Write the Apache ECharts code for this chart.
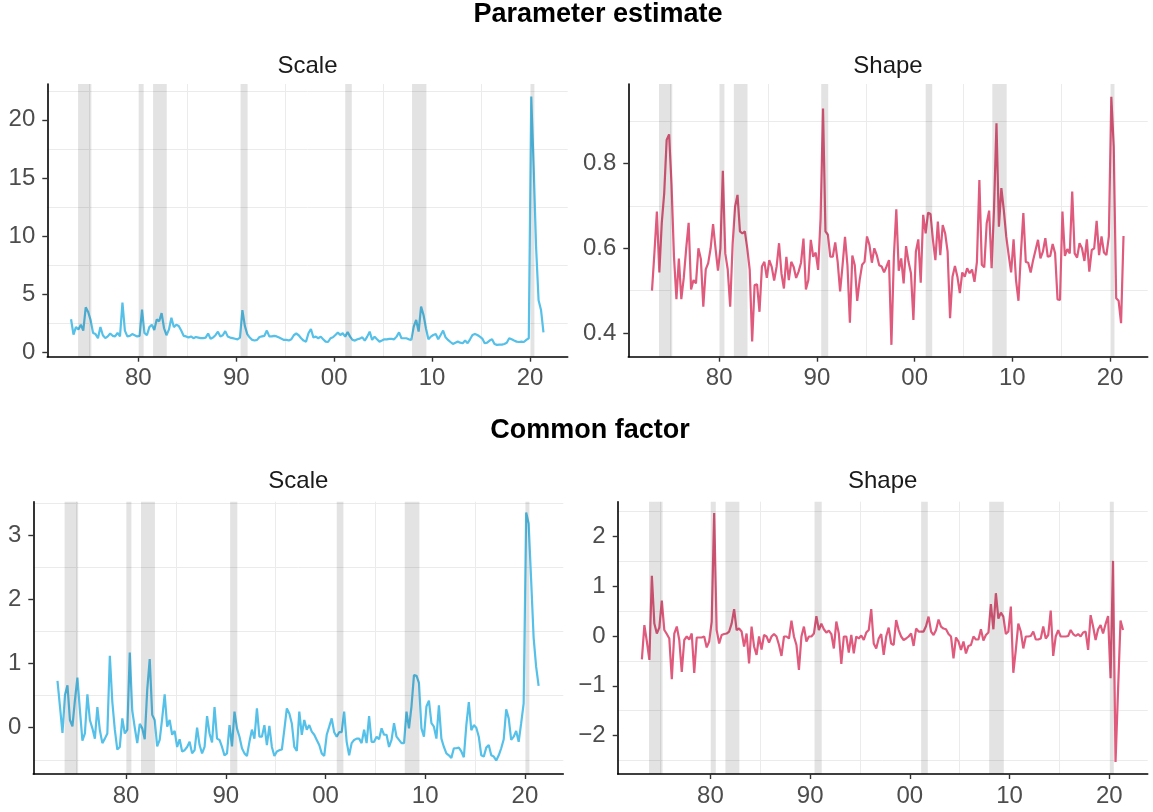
<!DOCTYPE html>
<html><head><meta charset="utf-8">
<script src="https://cdn.jsdelivr.net/npm/echarts@6/dist/echarts.min.js"></script>
<style>html,body{margin:0;padding:0;background:#fff}#c{width:1153px;height:812px}</style>
</head><body><div id="c"></div>
<script>
// quarterly observations, first quarter 1973Q1
const quarterStart = 1973.125;
const quarterStep = 0.25;

const scaleEstimate = [2.87,1.55,2.2,2.0,2.4,1.9,3.9,3.5,2.8,1.7,1.6,1.25,2.2,1.5,1.25,1.4,1.65,1.45,1.4,1.7,
1.4,4.3,1.9,1.4,1.45,1.6,1.5,1.4,1.45,3.7,1.7,1.5,2.2,2.4,1.95,2.85,2.7,3.4,2.1,1.5,
2.0,3.0,2.2,2.4,2.3,1.9,1.45,1.4,1.3,1.4,1.25,1.35,1.3,1.25,1.25,1.3,1.65,1.2,1.3,1.5,
1.8,1.4,1.5,1.85,1.4,1.3,1.25,1.2,1.15,1.3,3.65,2.3,1.6,1.3,1.1,1.05,1.1,1.35,1.4,1.45,
1.9,1.4,1.4,1.45,1.4,1.3,1.2,1.1,1.1,1.05,1.15,1.5,1.65,1.5,1.24,1.04,0.95,1.67,2.04,1.32,
1.38,1.24,1.38,1.15,0.95,0.92,1.24,1.32,1.52,1.72,1.52,1.67,1.38,1.78,1.38,1.1,1.04,1.15,1.21,1.32,
1.04,1.38,1.81,1.1,1.38,1.15,0.95,1.04,1.15,1.15,1.18,1.18,1.15,1.38,1.75,1.24,1.24,1.24,1.15,1.1,
2.24,2.81,1.81,3.96,3.24,2.1,1.15,1.38,1.52,1.61,1.15,1.52,1.9,1.32,1.1,0.92,0.75,0.86,0.95,0.86,
0.81,1.04,0.81,1.15,1.52,1.61,1.52,1.38,1.21,0.81,0.86,1.04,1.15,0.75,0.67,0.69,0.69,0.75,0.86,1.24,
1.15,1.04,0.95,0.92,0.95,0.92,1.1,1.24,22.0,16.0,9.0,4.5,3.67,1.75];

const shapeEstimate = [0.50,0.59,0.687,0.543,0.66,0.73,0.856,0.869,0.75,0.58,0.48,0.576,0.48,0.53,0.60,0.66,0.503,0.525,0.517,0.60,
0.575,0.462,0.55,0.565,0.60,0.657,0.60,0.547,0.60,0.783,0.588,0.55,0.462,0.61,0.698,0.726,0.64,0.635,0.64,0.60,
0.549,0.38,0.513,0.515,0.45,0.557,0.568,0.53,0.572,0.556,0.524,0.556,0.612,0.54,0.505,0.58,0.525,0.568,0.556,0.53,
0.545,0.566,0.623,0.503,0.525,0.62,0.58,0.59,0.549,0.67,0.93,0.64,0.632,0.58,0.58,0.614,0.568,0.498,0.56,0.627,
0.56,0.424,0.583,0.56,0.476,0.525,0.561,0.568,0.628,0.608,0.566,0.60,0.584,0.56,0.557,0.543,0.557,0.572,0.372,0.58,
0.692,0.547,0.576,0.517,0.605,0.568,0.541,0.431,0.592,0.621,0.519,0.679,0.635,0.684,0.681,0.62,0.572,0.663,0.584,0.655,
0.635,0.592,0.435,0.533,0.558,0.533,0.494,0.543,0.533,0.553,0.541,0.55,0.521,0.568,0.761,0.561,0.555,0.659,0.689,0.553,
0.694,0.895,0.651,0.742,0.69,0.628,0.584,0.543,0.621,0.525,0.476,0.588,0.683,0.568,0.566,0.543,0.572,0.596,0.62,0.576,
0.592,0.624,0.58,0.582,0.61,0.588,0.479,0.478,0.687,0.582,0.598,0.588,0.734,0.588,0.578,0.612,0.60,0.57,0.621,0.545,
0.596,0.60,0.665,0.584,0.628,0.59,0.584,0.628,0.958,0.84,0.482,0.476,0.423,0.629];

const scaleFactor = [0.73,0.33,-0.08,0.51,0.66,0.12,0.02,0.43,0.78,0.275,-0.2,-0.09,0.52,0.12,-0.01,-0.17,0.32,-0.04,-0.24,-0.17,
-0.09,1.12,0.40,-0.03,-0.34,-0.30,0.146,-0.09,-0.03,1.17,0.265,0.0,-0.24,0.06,-0.01,-0.18,0.59,1.07,0.2,0.12,
-0.29,-0.19,0.146,0.52,0.016,0.12,-0.11,-0.05,-0.30,-0.18,-0.37,-0.35,-0.30,-0.22,-0.40,-0.35,0.0,-0.27,-0.40,-0.30,
0.18,-0.09,-0.23,0.32,-0.17,-0.19,-0.30,-0.43,-0.40,0.04,-0.29,0.25,-0.01,-0.14,-0.32,-0.40,-0.44,-0.22,-0.03,-0.17,
0.30,-0.14,-0.14,0.04,-0.27,0.03,-0.30,-0.44,-0.37,-0.35,-0.34,-0.03,0.30,0.22,0.067,-0.30,-0.36,0.25,-0.11,0.12,
-0.03,0.04,-0.06,-0.11,-0.19,-0.27,-0.40,-0.44,-0.11,0.016,0.146,-0.07,-0.14,-0.07,-0.07,0.25,-0.22,-0.43,-0.24,-0.19,
-0.17,-0.17,-0.24,-0.03,-0.24,0.18,-0.22,-0.22,-0.14,-0.18,-0.01,-0.11,-0.11,-0.30,-0.19,0.07,-0.14,-0.19,-0.24,-0.24,
0.25,-0.01,0.33,0.82,0.81,0.70,-0.01,-0.14,0.33,0.42,0.07,0.016,-0.17,0.35,-0.17,-0.30,-0.40,-0.43,-0.47,-0.32,
-0.32,-0.31,-0.37,-0.46,0.04,0.40,-0.04,0.04,0.0,-0.14,-0.43,-0.45,-0.31,-0.27,-0.43,-0.45,-0.51,-0.43,-0.32,-0.18,
0.285,0.146,-0.19,-0.14,-0.05,-0.22,0.07,0.38,3.35,3.18,2.3,1.4,0.95,0.65];

const shapeFactor = [-0.47,0.22,-0.11,-0.48,1.21,0.25,0.05,0.17,0.71,0.12,0.04,-0.05,-0.87,0.05,0.19,-0.08,-0.72,-0.08,-0.01,-0.07,
0.05,-0.74,-0.03,-0.03,-0.03,-0.01,-0.23,-0.11,0.29,2.47,0.12,-0.15,0.02,0.04,0.05,0.09,0.25,0.54,0.12,0.15,
0.09,-0.21,0.05,-0.55,0.19,-0.21,-0.38,-0.01,-0.27,0.02,-0.01,-0.13,-0.01,0.04,-0.01,-0.18,-0.40,-0.01,-0.01,-0.05,
0.31,-0.01,-0.18,-0.68,-0.01,0.19,-0.11,-0.01,-0.01,0.05,0.40,0.12,0.25,0.135,0.07,0.11,0.04,-0.25,0.29,0.05,
-0.56,-0.01,-0.01,-0.335,0.02,-0.35,-0.01,-0.05,0.01,-0.08,0.07,0.12,0.54,-0.15,-0.25,-0.05,0.04,-0.38,-0.01,0.17,
-0.15,-0.18,0.32,0.12,-0.01,-0.08,-0.05,-0.01,0.05,-0.2,0.15,0.09,0.09,0.09,0.2,0.39,0.09,0.02,0.12,0.33,
0.19,0.15,0.135,0.04,-0.01,-0.45,-0.03,-0.11,-0.28,-0.11,-0.35,-0.2,-0.18,-0.01,-0.07,-0.07,0.135,-0.09,0.02,0.07,
0.64,0.135,0.86,0.35,0.47,0.39,0.04,0.09,0.59,-0.74,-0.28,0.25,0.09,-0.25,-0.01,-0.01,0.0,0.09,-0.07,-0.07,
-0.05,0.19,-0.05,0.02,0.51,-0.4,-0.01,0.12,-0.01,-0.01,-0.01,0.0,0.12,0.04,0.0,0.04,-0.01,0.07,0.09,-0.28,
0.42,0.19,-0.08,0.135,0.22,0.05,0.24,0.40,-0.85,1.51,-2.53,-1.1,0.31,0.12];

// NBER recessions (start, end in decimal years)
const recessions = [[1973.84,1975.2],[1980.03,1980.54],[1981.5,1982.9],[1990.44,1991.16],[2001.13,2001.8],[2007.95,2009.42],[2020.05,2020.45]];

const xTickValues = [1980,1990,2000,2010,2020];
const xMinorValues = [1975,1985,1995,2005,2015];
const yTicksScaleEst = [0,5,10,15,20];
const yMinorScaleEst = [2.5,7.5,12.5,17.5,22.5];
const yTicksShapeEst = [0.4,0.6,0.8];
const yMinorShapeEst = [0.5,0.7,0.9];
const yTicksScaleFac = [0,1,2,3];
const yMinorScaleFac = [-0.5,0.5,1.5,2.5,3.5];
const yTicksShapeFac = [-2,-1,0,1,2];
const yMinorShapeFac = [-2.5,-1.5,-0.5,0.5,1.5,2.5];

const rowTitles = ['Parameter estimate','Common factor'];
const panelTitles = ['Scale','Shape','Scale','Shape'];

const BLUE = '#55C0E8';
const PINK = '#DF5A7C';
const FONT = "'Liberation Sans', Arial, Helvetica, sans-serif";

const dates = scaleEstimate.map((_, k) => quarterStart + quarterStep * k);
const pairs = vals => vals.map((v, k) => [dates[k], v]);

const xMin = 1970.7, xMax = 2023.85;
const minus = s => String(s).replace('-', '\u2212');

const panels = [
  {data: scaleEstimate, color: BLUE, grid: {left: 47.3, top: 84, width: 520.4, height: 272.7},
   yMin: -0.344, yMax: 23.08, ticks: yTicksScaleEst, minor: yMinorScaleEst, fmt: v => String(v)},
  {data: shapeEstimate, color: PINK, grid: {left: 628.3, top: 84, width: 519.4, height: 272.7},
   yMin: 0.344, yMax: 0.988, ticks: yTicksShapeEst, minor: yMinorShapeEst, fmt: v => v.toFixed(1)},
  {data: scaleFactor, color: BLUE, grid: {left: 33.3, top: 501.7, width: 530, height: 272.3},
   yMin: -0.721, yMax: 3.52, ticks: yTicksScaleFac, minor: yMinorScaleFac, fmt: v => minus(v)},
  {data: shapeFactor, color: PINK, grid: {left: 617.7, top: 501.7, width: 530, height: 272.3},
   yMin: -2.774, yMax: 2.70, ticks: yTicksShapeFac, minor: yMinorShapeFac, fmt: v => minus(v)}
];

const grid = [], xAxis = [], yAxis = [], series = [];
const gridColor = '#EBEBEB';
panels.forEach((p, g) => {
  grid.push(Object.assign({}, p.grid));
  xAxis.push({
    type: 'value', gridIndex: g, min: xMin, max: xMax, position: 'bottom',
    axisLine: {show: true, onZero: false, lineStyle: {color: '#000', width: 1.6}},
    axisTick: {show: true, customValues: xTickValues, length: 5, lineStyle: {color: '#333', width: 1.4}},
    axisLabel: {show: true, customValues: xTickValues, formatter: v => String(Math.round(v) % 100).padStart(2, '0'),
      color: '#4D4D4D', fontSize: 24, fontFamily: FONT, margin: 10},
    splitLine: {show: false}
  });
  xAxis.push({
    type: 'value', gridIndex: g, min: xMin, max: xMax, position: 'top',
    axisLine: {show: false}, axisTick: {show: false, customValues: xMinorValues},
    axisLabel: {show: false},
    splitLine: {show: true, lineStyle: {color: gridColor, width: 1}}
  });
  yAxis.push({
    type: 'value', gridIndex: g, min: p.yMin, max: p.yMax, position: 'left',
    axisLine: {show: true, onZero: false, lineStyle: {color: '#000', width: 1.6}},
    axisTick: {show: true, customValues: p.ticks, length: 5, lineStyle: {color: '#333', width: 1.4}},
    axisLabel: {show: true, customValues: p.ticks, formatter: p.fmt, color: '#4D4D4D', fontSize: 24, fontFamily: FONT, margin: 12},
    splitLine: {show: false}
  });
  yAxis.push({
    type: 'value', gridIndex: g, min: p.yMin, max: p.yMax, position: 'right',
    axisLine: {show: false}, axisTick: {show: false, customValues: p.minor},
    axisLabel: {show: false},
    splitLine: {show: true, lineStyle: {color: gridColor, width: 1}}
  });
  series.push({
    type: 'line', xAxisIndex: 2 * g, yAxisIndex: 2 * g, data: pairs(p.data),
    showSymbol: false, symbol: 'none', z: 2,
    lineStyle: {color: p.color, width: 2.2}, itemStyle: {color: p.color},
    markArea: {silent: true, z: 5, itemStyle: {color: 'rgba(0,0,0,0.11)'},
      data: recessions.map(r => [{xAxis: r[0]}, {xAxis: r[1]}])}
  });
});

const textStyle = (text, x, y, size, bold, color) => ({
  type: 'text', x: x, y: y, silent: true,
  style: {text: text, fill: color, font: (bold ? 'bold ' : '') + size + 'px ' + FONT,
    textAlign: 'center', textVerticalAlign: 'middle'}
});

const graphic = [
  textStyle(rowTitles[0], 598, 15, 27, true, '#000'),
  textStyle(panelTitles[0], 307.5, 66, 24, false, '#1A1A1A'),
  textStyle(panelTitles[1], 888, 66, 24, false, '#1A1A1A'),
  textStyle(rowTitles[1], 590, 431, 27, true, '#000'),
  textStyle(panelTitles[2], 298.3, 481, 24, false, '#1A1A1A'),
  textStyle(panelTitles[3], 882.7, 481, 24, false, '#1A1A1A')
];

const chart = echarts.init(document.getElementById('c'), null, {renderer: 'canvas'});
chart.setOption({animation: false, backgroundColor: '#fff', grid, xAxis, yAxis, series, graphic});
</script>
</body></html>
